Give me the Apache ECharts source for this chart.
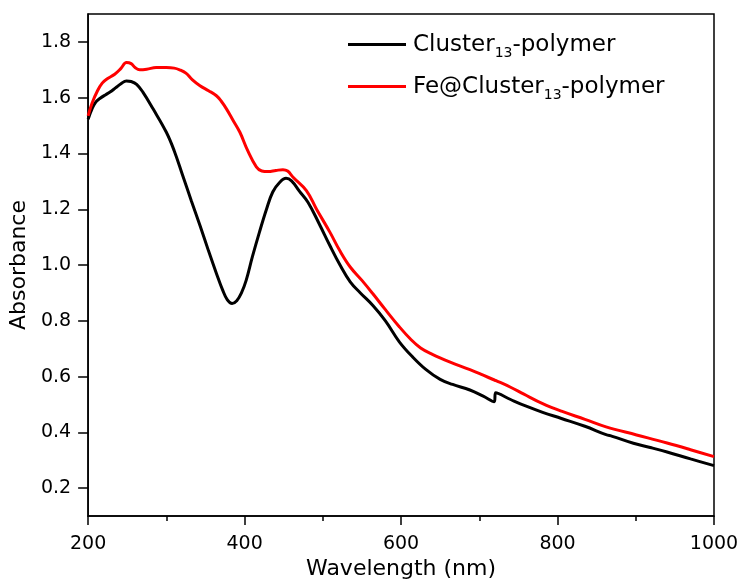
<!DOCTYPE html>
<html>
<head>
<meta charset="utf-8">
<script src="https://cdn.jsdelivr.net/npm/echarts@6/dist/echarts.min.js"></script>
<style>
  html, body { margin: 0; padding: 0; background: #fff; }
  #chart { width: 743px; height: 585px; }
</style>
</head>
<body>
<div id="chart"></div>
<script>
// wavelength (nm) and absorbance
var clusterData = [
  [200, 1.523], [205, 1.56], [210, 1.585], [215, 1.597], [222, 1.610], [228, 1.620],
  [235, 1.635], [242, 1.650], [249, 1.660], [255, 1.658], [262, 1.648], [270, 1.62],
  [283, 1.56], [300, 1.476], [310, 1.41], [321, 1.32], [332, 1.23], [343, 1.142],
  [354, 1.05], [364, 0.97], [372, 0.91], [378, 0.875], [384, 0.862], [390, 0.872],
  [396, 0.90], [402, 0.945], [410, 1.03], [419, 1.118], [428, 1.20], [436, 1.262],
  [445, 1.297], [453, 1.311], [460, 1.302], [470, 1.265], [481, 1.225], [495, 1.15],
  [509, 1.07], [522, 1.0], [535, 0.94], [548, 0.9], [564, 0.855], [580, 0.80],
  [598, 0.724], [615, 0.67], [632, 0.625], [650, 0.59], [666, 0.572], [688, 0.552],
  [705, 0.53], [719, 0.51], [721, 0.542], [740, 0.518], [760, 0.494], [781, 0.472],
  [805, 0.45], [835, 0.422], [862, 0.392], [870, 0.386], [897, 0.361], [920, 0.345],
  [940, 0.330], [970, 0.305], [1000, 0.281]
];
var feClusterData = [
  [200, 1.535], [205, 1.58], [212, 1.625], [218, 1.652], [224, 1.667], [234, 1.684],
  [242, 1.705], [249, 1.726], [255, 1.722], [260, 1.708], [266, 1.700], [275, 1.702],
  [287, 1.708], [300, 1.708], [310, 1.706], [317, 1.700], [325, 1.688], [333, 1.665],
  [343, 1.643], [354, 1.625], [364, 1.607], [370, 1.588], [377, 1.559], [385, 1.52],
  [394, 1.476], [404, 1.41], [415, 1.352], [422, 1.337], [430, 1.335], [440, 1.339],
  [449, 1.342], [455, 1.337], [462, 1.315], [479, 1.267], [492, 1.20], [509, 1.118],
  [522, 1.05], [535, 0.993], [550, 0.945], [564, 0.897], [580, 0.84], [598, 0.778],
  [612, 0.735], [625, 0.703], [640, 0.68], [662, 0.653], [688, 0.625], [705, 0.605],
  [720, 0.587], [722, 0.585], [740, 0.562], [757, 0.537], [781, 0.503], [805, 0.476],
  [835, 0.447], [862, 0.42], [901, 0.391], [940, 0.362], [970, 0.338], [1000, 0.313]
];
var yTicks = [0.2, 0.4, 0.6, 0.8, 1.0, 1.2, 1.4, 1.6, 1.8];
var seriesNames = ['Cluster13-polymer', 'Fe@Cluster13-polymer'];

var font = 'DejaVu Sans';
var chart = echarts.init(document.getElementById('chart'));
var option = {
  backgroundColor: '#fff',
  animation: false,
  grid: {
    left: 88, top: 14, right: 29, bottom: 68,
    show: true, borderColor: '#000', borderWidth: 1.5
  },
  legend: {
    orient: 'vertical',
    left: 348, top: 28,
    padding: 0,
    itemGap: 10,
    itemWidth: 58,
    itemHeight: 3,
    icon: 'rect',
    data: seriesNames,
    formatter: function (name) {
      var parts = name.split('13');
      return '{a|' + parts[0] + '}{s|13}{a|' + parts[1] + '}';
    },
    textStyle: {
      padding: [5, 0, 0, 2],
      rich: {
        a: { fontFamily: font, fontSize: 23, color: '#000', lineHeight: 26, verticalAlign: 'top' },
        s: { fontFamily: font, fontSize: 14, color: '#000', lineHeight: 14, padding: [18, 0, 0, 0], verticalAlign: 'bottom' }
      }
    }
  },
  xAxis: {
    type: 'value',
    min: 200, max: 1000, interval: 200,
    name: 'Wavelength (nm)',
    nameLocation: 'middle',
    nameGap: 38,
    nameTextStyle: { fontFamily: font, fontSize: 22, color: '#000' },
    axisLine: { onZero: false, lineStyle: { color: '#000', width: 1.5 } },
    axisTick: { length: 9, lineStyle: { color: '#000', width: 1.5 } },
    minorTick: { show: true, splitNumber: 2, length: 5, lineStyle: { color: '#000', width: 1.5 } },
    axisLabel: {
      margin: 18, fontFamily: font, fontSize: 19, color: '#000',
      formatter: function (v) { return String(v); }
    },
    splitLine: { show: false }
  },
  yAxis: {
    type: 'value',
    min: 0.1, max: 1.9,
    name: 'Absorbance',
    nameLocation: 'middle',
    nameGap: 48,
    nameTextStyle: { fontFamily: font, fontSize: 22, color: '#000' },
    axisLine: { onZero: false, lineStyle: { color: '#000', width: 1.5 } },
    axisTick: { length: 10, customValues: yTicks, lineStyle: { color: '#000', width: 1.5 } },
    axisLabel: {
      margin: 17, fontFamily: font, fontSize: 19, color: '#000',
      customValues: yTicks,
      formatter: function (v) { return v.toFixed(1); }
    },
    splitLine: { show: false }
  },
  series: [
    {
      name: seriesNames[0], type: 'line', data: clusterData,
      showSymbol: false, symbol: 'none', smooth: 0.4,
      lineStyle: { color: '#000', width: 3 }, itemStyle: { color: '#000' }
    },
    {
      name: seriesNames[1], type: 'line', data: feClusterData,
      showSymbol: false, symbol: 'none', smooth: 0.4,
      lineStyle: { color: '#ff0000', width: 3 }, itemStyle: { color: '#ff0000' }
    }
  ]
};
chart.setOption(option);
</script>
</body>
</html>
